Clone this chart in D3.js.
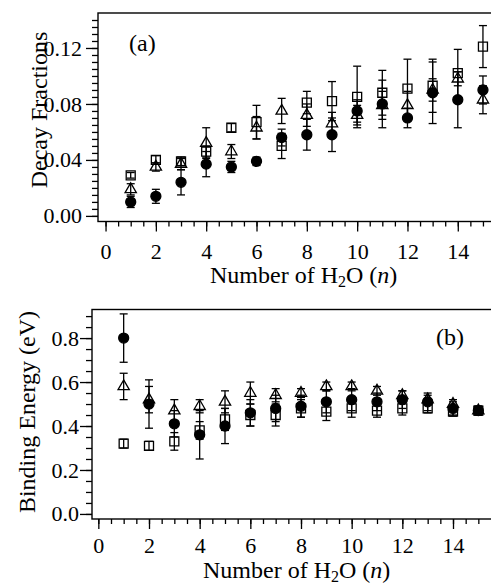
<!DOCTYPE html>
<html>
<head>
<meta charset="utf-8">
<script src="https://cdn.jsdelivr.net/npm/d3@7"></script>
<style>
body { margin: 0; background: #fff; }
text { font-family: "Liberation Serif", "Times New Roman", serif; fill: #000; }
</style>
</head>
<body>
<svg id="chart" width="491" height="583"></svg>
<script>
// number of water molecules (x categories)
var nValues = [1, 2, 3, 4, 5, 6, 7, 8, 9, 10, 11, 12, 13, 14, 15];
var nTicks = [0, 2, 4, 6, 8, 10, 12, 14];

// (a) decay fractions
var fracCircle    = [0.010, 0.014, 0.024, 0.037, 0.035, 0.039, 0.056, 0.058, 0.058, 0.075, 0.080, 0.070, 0.088, 0.083, 0.090];
var fracCircleErr = [0.004, 0.005, 0.009, 0.009, 0.004, 0.003, 0.006, 0.011, 0.012, 0.008, 0.017, 0.007, 0.022, 0.020, 0.010];
var fracSquare    = [0.029, 0.040, 0.039, 0.046, 0.063, 0.067, 0.050, 0.081, 0.082, 0.085, 0.088, 0.091, 0.093, 0.102, 0.121];
var fracSquareErr = [0.002, 0.003, 0.003, 0.004, 0.003, 0.012, 0.009, 0.008, 0.014, 0.022, 0.016, 0.021, 0.019, 0.017, 0.015];
var fracTri       = [0.019, 0.035, 0.037, 0.052, 0.046, 0.063, 0.075, 0.072, 0.066, 0.072, 0.079, 0.079, 0.090, 0.098, 0.083];
var fracTriErr    = [0.004, 0.003, 0.004, 0.011, 0.005, 0.008, 0.009, 0.008, 0.008, 0.007, 0.010, 0.010, 0.008, 0.005, 0.010];
var fracTicks = [0, 0.04, 0.08, 0.12];

// (b) binding energy (eV)
var bindCircle    = [0.80, 0.50, 0.41, 0.36, 0.40, 0.46, 0.48, 0.49, 0.51, 0.52, 0.51, 0.52, 0.51, 0.48, 0.47];
var bindCircleErr = [0.11, 0.11, 0.06, 0.11, 0.08, 0.06, 0.06, 0.05, 0.05, 0.05, 0.04, 0.04, 0.04, 0.03, 0.02];
var bindSquare    = [0.32, 0.31, 0.33, 0.38, 0.43, 0.45, 0.45, 0.48, 0.465, 0.48, 0.47, 0.48, 0.48, 0.465, 0.47];
var bindSquareErr = [0.02, 0.02, 0.04, 0.04, 0.05, 0.05, 0.05, 0.04, 0.04, 0.04, 0.03, 0.03, 0.02, 0.02, 0.02];
var bindTri       = [0.58, 0.52, 0.47, 0.49, 0.51, 0.55, 0.54, 0.55, 0.58, 0.58, 0.56, 0.54, 0.52, 0.50, 0.47];
var bindTriErr    = [0.06, 0.06, 0.05, 0.03, 0.05, 0.05, 0.03, 0.02, 0.02, 0.02, 0.02, 0.02, 0.02, 0.02, 0.02];
var bindTicks = [0, 0.2, 0.4, 0.6, 0.8];

var svg = d3.select("#chart");

var panels = [
    {
        left: 98, right: 491, top: 13, bottom: 221.5,
        xDomain: [-0.3, 15.32], yDomain: [-0.004, 0.145],
        yTicks: fracTicks, yMinorStep: 0.005, yFormat: d3.format(".2f"), yPad: 4,
        yTitle: "Decay Fractions", yTitleX: 47, yTitleY: 110,
        xLabelY: 37.5, xTitleX: 210, xTitleY: 283,
        tag: "(a)", tagX: 129, tagY: 51,
        squares: fracSquare, squaresErr: fracSquareErr,
        tris: fracTri, trisErr: fracTriErr,
        circles: fracCircle, circlesErr: fracCircleErr
    },
    {
        left: 92, right: 491, top: 309.5, bottom: 519,
        xDomain: [-0.25, 15.5], yDomain: [-0.023, 0.93],
        yTicks: bindTicks, yMinorStep: 0.05, yFormat: d3.format(".1f"), yPad: 1,
        yTitle: "Binding Energy (eV)", yTitleX: 35, yTitleY: 412,
        xLabelY: 34, xTitleX: 203, xTitleY: 577.5,
        tag: "(b)", tagX: 436, tagY: 345,
        squares: bindSquare, squaresErr: bindSquareErr,
        tris: bindTri, trisErr: bindTriErr,
        circles: bindCircle, circlesErr: bindCircleErr
    }
];

panels.forEach(drawPanel);

function drawPanel(p) {
    var g = svg.append("g");
    var x = d3.scaleLinear().domain(p.xDomain).range([p.left, p.right]);
    var y = d3.scaleLinear().domain(p.yDomain).range([p.bottom, p.top]);

    // minor ticks first, then the labelled ones
    var xMinor = d3.range(0, 15.3, 0.5);
    var yMinor = d3.range(0, p.yDomain[1], p.yMinorStep);

    g.append("g")
        .attr("transform", "translate(0," + p.bottom + ")")
        .call(d3.axisBottom(x).tickValues(xMinor).tickSize(5).tickSizeOuter(0).tickFormat(""));
    var xAxis = g.append("g")
        .attr("transform", "translate(0," + p.bottom + ")")
        .call(d3.axisBottom(x).tickValues(nTicks).tickSize(10).tickSizeOuter(0).tickFormat(d3.format("d")));
    xAxis.selectAll("text")
        .attr("y", p.xLabelY).attr("dy", null)
        .style("font-size", "22px");

    g.append("g")
        .attr("transform", "translate(" + p.left + ",0)")
        .call(d3.axisLeft(y).tickValues(yMinor).tickSize(6).tickSizeOuter(0).tickFormat(""));
    var yAxis = g.append("g")
        .attr("transform", "translate(" + p.left + ",0)")
        .call(d3.axisLeft(y).tickValues(p.yTicks).tickSize(12).tickSizeOuter(0).tickPadding(p.yPad).tickFormat(p.yFormat));
    yAxis.selectAll("text").style("font-size", "22px");

    g.selectAll(".domain").remove();
    g.selectAll(".tick line").attr("stroke", "#000").attr("stroke-width", 1.3);
    g.selectAll(".tick text").style("font-family", "'Liberation Serif', serif").attr("fill", "#000");

    // frame
    g.append("rect")
        .attr("x", p.left).attr("y", p.top)
        .attr("width", p.right - p.left + 2).attr("height", p.bottom - p.top)
        .attr("fill", "none").attr("stroke", "#000").attr("stroke-width", 1.4);

    // axis titles
    g.append("text")
        .attr("transform", "translate(" + p.yTitleX + "," + p.yTitleY + ") rotate(-90)")
        .attr("text-anchor", "middle")
        .style("font-size", "24px")
        .text(p.yTitle);

    var xt = g.append("text")
        .attr("x", p.xTitleX).attr("y", p.xTitleY)
        .style("font-size", "24px");
    xt.append("tspan").text("Number of H");
    xt.append("tspan").attr("dy", 4).style("font-size", "16px").text("2");
    xt.append("tspan").attr("dy", -4).text("O (");
    xt.append("tspan").style("font-style", "italic").text("n");
    xt.append("tspan").text(")");

    g.append("text")
        .attr("x", p.tagX).attr("y", p.tagY)
        .style("font-size", "24px")
        .text(p.tag);

    // series: squares, triangles, then filled circles on top
    drawSeries(g, x, y, p.squares, p.squaresErr, "square");
    drawSeries(g, x, y, p.tris, p.trisErr, "triangle");
    drawSeries(g, x, y, p.circles, p.circlesErr, "circle");
}

function drawSeries(g, x, y, vals, errs, kind) {
    var data = nValues.map(function (n, i) { return {n: n, v: vals[i], e: errs[i]}; });
    var s = g.append("g").attr("stroke", "#000").attr("stroke-width", 1.3);

    // error bars with caps
    s.selectAll(".bar").data(data).enter().append("line")
        .attr("x1", function (d) { return x(d.n); })
        .attr("x2", function (d) { return x(d.n); })
        .attr("y1", function (d) { return y(d.v - d.e); })
        .attr("y2", function (d) { return y(d.v + d.e); });
    [-1, 1].forEach(function (sign) {
        s.selectAll(".cap" + sign).data(data).enter().append("line")
            .attr("x1", function (d) { return x(d.n) - 4; })
            .attr("x2", function (d) { return x(d.n) + 4; })
            .attr("y1", function (d) { return y(d.v + sign * d.e); })
            .attr("y2", function (d) { return y(d.v + sign * d.e); });
    });

    if (kind == "circle") {
        s.selectAll("circle").data(data).enter().append("circle")
            .attr("cx", function (d) { return x(d.n); })
            .attr("cy", function (d) { return y(d.v); })
            .attr("r", 5)
            .attr("fill", "#000");
    } else {
        var sym = kind == "square" ? d3.symbol(d3.symbolSquare, 81) : d3.symbol(d3.symbolTriangle, 55);
        s.selectAll("path.mk").data(data).enter().append("path")
            .attr("class", "mk")
            .attr("d", sym)
            .attr("transform", function (d) { return "translate(" + x(d.n) + "," + y(d.v) + ")"; })
            .attr("fill", "none");
    }
}
</script>
</body>
</html>
